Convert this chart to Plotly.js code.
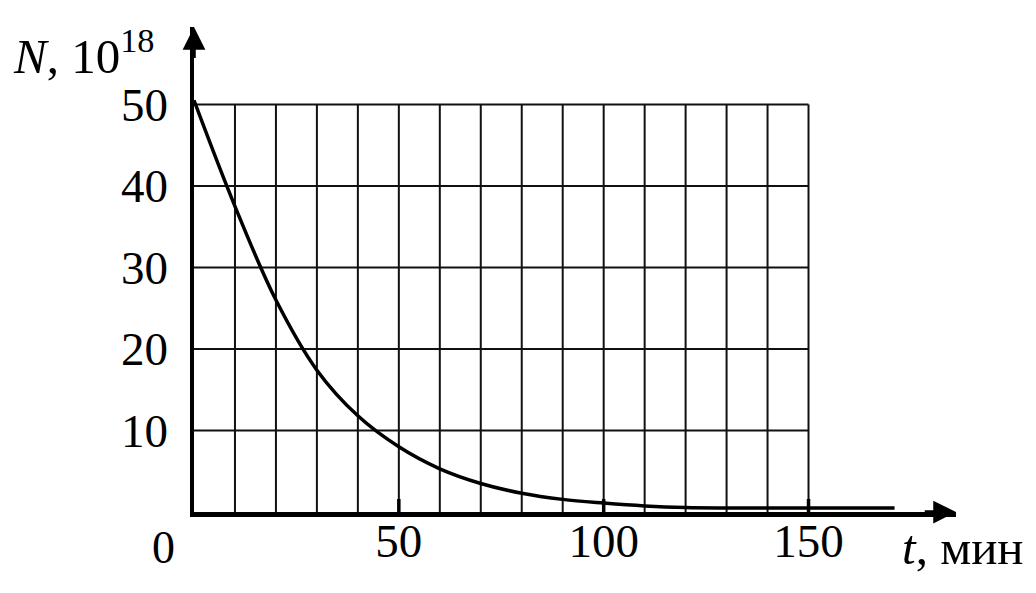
<!DOCTYPE html>
<html>
<head>
<meta charset="utf-8">
<script src="https://cdn.plot.ly/plotly-3.0.1.min.js"></script>
<style>html,body{margin:0;padding:0;background:#fff;}#chart{width:1036px;height:593px;}</style>
</head>
<body>
<div id="chart"></div>
<script>
// Data
const timeMin = [0, 10, 20, 30, 40, 50, 60, 70, 80, 90, 100, 110, 120, 130, 140, 150, 160, 171];
const nuclei  = [50.5, 37.5, 26, 17.4, 11.8, 8.0, 5.3, 3.5, 2.3, 1.55, 1.1, 0.75, 0.55, 0.5, 0.5, 0.5, 0.5, 0.5];
const gridX = [10, 20, 30, 40, 50, 60, 70, 80, 90, 100, 110, 120, 130, 140, 150];
const gridY = [10, 20, 30, 40, 50];
const xTickVals = [50, 100, 150];
const xTickText = ['50', '100', '150'];
const yTickVals = [10, 20, 30, 40, 50];
const yTickText = ['10', '20', '30', '40', '50'];
const xMax = 186, yMax = 59.5;
const gridXMax = 150, gridYMax = 50;

const FONT = 'Liberation Serif, Times New Roman, serif';

const shapes = [];
gridX.forEach(v => shapes.push({type:'line', xref:'x', yref:'y', x0:v, x1:v, y0:0, y1:gridYMax, line:{color:'#111', width:2}, layer:'below'}));
gridY.forEach(v => shapes.push({type:'line', xref:'x', yref:'y', x0:0, x1:gridXMax, y0:v, y1:v, line:{color:'#111', width:2}, layer:'below'}));
xTickVals.forEach(v => shapes.push({type:'line', xref:'x', yref:'y', x0:v, x1:v, y0:-1.6, y1:1.6, line:{color:'#000', width:3.5}}));

const annotations = [
  {xref:'x', yref:'y', x:0, y:yMax, axref:'x', ayref:'y', ax:0, ay:yMax-4, showarrow:true, arrowhead:2, arrowsize:1.3, arrowwidth:3.5, arrowcolor:'#000', text:''},
  {xref:'x', yref:'y', x:xMax, y:0, axref:'x', ayref:'y', ax:xMax-8, ay:0, showarrow:true, arrowhead:2, arrowsize:1.3, arrowwidth:3.5, arrowcolor:'#000', text:''},
  {xref:'paper', yref:'paper', x:0, y:0, xanchor:'right', yanchor:'middle', xshift:-17, yshift:-35, showarrow:false, text:'0', font:{family:FONT, size:46, color:'#000'}},
  {xref:'paper', yref:'paper', x:0, y:1, xanchor:'left', yanchor:'top', xshift:-183, yshift:8, showarrow:false, text:'<i>N</i>, 10<sup>18</sup>', font:{family:FONT, size:49, color:'#000'}},
  {xref:'x', yref:'y', x:xMax, y:0, xanchor:'right', yanchor:'middle', xshift:70, yshift:-35, showarrow:false, text:'<i>t</i>, мин', font:{family:FONT, size:49, color:'#000'}}
];

const trace = {
  x: timeMin, y: nuclei, type:'scatter', mode:'lines',
  line:{color:'#000', width:3.5, shape:'spline', smoothing:1},
  hoverinfo:'skip', cliponaxis:false
};

const layout = {
  width:1036, height:593,
  margin:{l:194, r:80, t:27, b:81},
  paper_bgcolor:'#fff', plot_bgcolor:'#fff',
  showlegend:false,
  xaxis:{range:[0,xMax], showgrid:false, zeroline:false, showline:true, linecolor:'#000', linewidth:4.5,
         tickmode:'array', tickvals:xTickVals, ticktext:xTickText, ticks:'',
         tickfont:{family:FONT, size:47, color:'#000'}, ticklabelstandoff:-16, fixedrange:true},
  yaxis:{range:[0,yMax], showgrid:false, zeroline:false, showline:true, linecolor:'#000', linewidth:4.5,
         tickmode:'array', tickvals:yTickVals, ticktext:yTickText, ticks:'',
         tickfont:{family:FONT, size:47, color:'#000'}, ticklabelstandoff:12, fixedrange:true},
  shapes: shapes,
  annotations: annotations
};

Plotly.newPlot('chart', [trace], layout, {displayModeBar:false, staticPlot:true});
</script>
</body>
</html>
